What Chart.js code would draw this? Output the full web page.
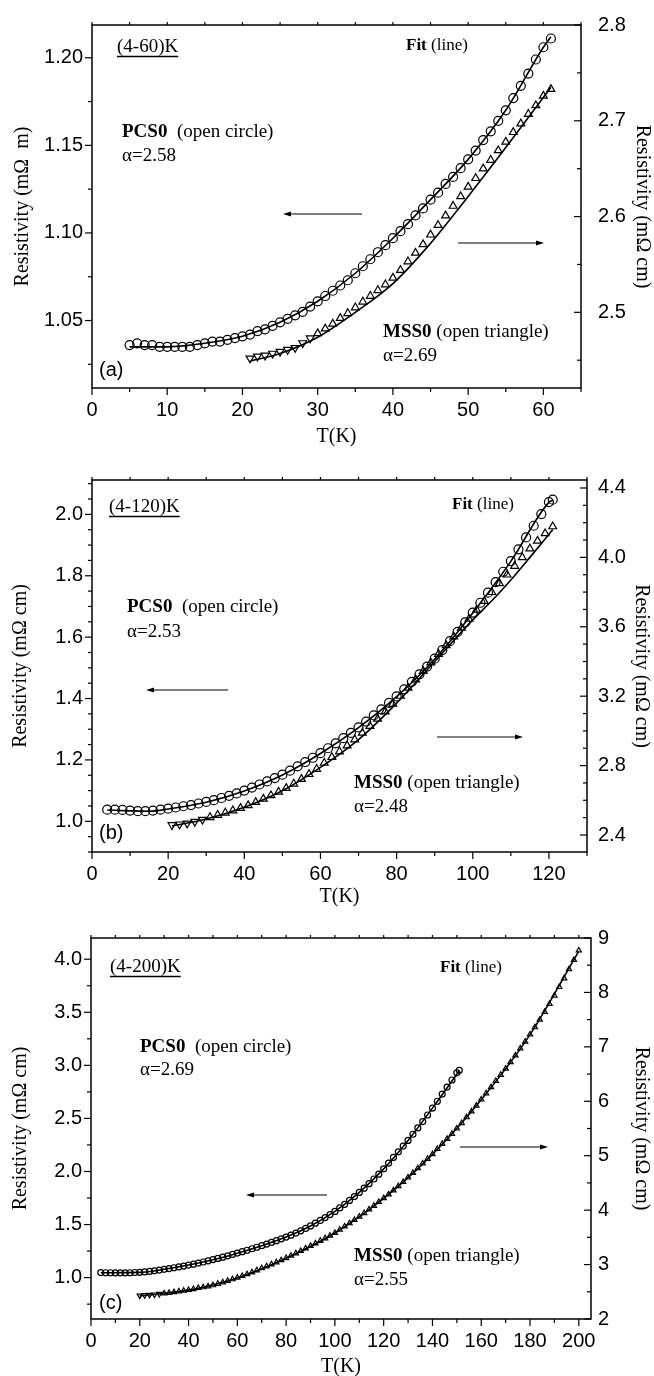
<!DOCTYPE html>
<html>
<head>
<meta charset="utf-8">
<script src="https://cdn.jsdelivr.net/npm/chart.js@4.4.1/dist/chart.umd.min.js"></script>
<style>
  html, body { margin: 0; padding: 0; background: #fff; overflow: hidden; }
  canvas { position: absolute; left: 0; }
</style>
</head>
<body>
<canvas id="ca" width="654" height="460" style="top:0"></canvas>
<canvas id="cb" width="654" height="460" style="top:460px"></canvas>
<canvas id="cc" width="654" height="470" style="top:920px"></canvas>
<script>
// ---- panel (a) 4-60 K ----
const tempA_pcs = [5,6,7,8,9,10,11,12,13,14,15,16,17,18,19,20,21,22,23,24,25,26,27,28,29,30,31,32,33,34,35,36,37,38,39,40,41,42,43,44,45,46,47,48,49,50,51,52,53,54,55,56,57,58,59,60,61];
const rhoA_pcs = [1.036,1.037,1.036,1.036,1.035,1.035,1.035,1.035,1.035,1.036,
  1.037,1.038,1.038,1.039,1.040,1.041,1.042,1.044,1.045,1.047,
  1.049,1.051,1.053,1.055,1.058,1.061,1.064,1.067,1.070,1.073,
  1.077,1.081,1.085,1.089,1.093,1.097,1.101,1.105,1.110,1.114,
  1.119,1.123,1.128,1.132,1.137,1.142,1.147,1.153,1.158,1.164,
  1.170,1.177,1.184,1.191,1.199,1.206,1.211];
const tempA_mss = [21,22,23,24,25,26,27,28,29,30,31,32,33,34,35,36,37,38,39,40,41,42,43,44,45,46,47,48,49,50,51,52,53,54,55,56,57,58,59,60,61];
const rhoA_mss = [2.452,2.454,2.455,2.457,2.459,2.461,2.463,2.468,2.473,2.478,
  2.483,2.488,2.494,2.499,2.505,2.511,2.517,2.523,2.529,2.536,
  2.544,2.553,2.562,2.571,2.581,2.591,2.601,2.611,2.621,2.631,
  2.640,2.650,2.659,2.669,2.678,2.688,2.697,2.707,2.716,2.726,2.733];
const tempA_fitPcs = [5,10,15,20,25,30,35,40,45,50,55,60,61];
const rhoA_fitPcs = [1.035,1.035,1.037,1.041,1.049,1.061,1.077,1.097,1.119,1.142,1.170,1.206,1.212];
const tempA_fitMss = [21,25,30,35,40,45,50,55,61];
const rhoA_fitMss = [2.449,2.457,2.474,2.500,2.530,2.572,2.621,2.672,2.735];
const xTicksA = [0,10,20,30,40,50,60];
const yTicksA = [1.05,1.10,1.15,1.20];
const y2TicksA = [2.5,2.6,2.7,2.8];

// ---- panel (b) 4-120 K ----
const tempB_pcs = [4,6,8,10,12,14,16,18,20,22,24,26,28,30,32,34,36,38,40,42,44,46,48,50,52,54,56,58,60,62,64,66,68,70,72,74,76,78,80,82,84,86,88,90,92,94,96,98,100,102,104,106,108,110,112,114,116,118,120,121];
const rhoB_pcs = [1.038,1.038,1.037,1.035,1.033,1.033,1.035,1.038,1.041,1.045,
  1.049,1.053,1.058,1.063,1.069,1.076,1.083,1.091,1.100,1.110,
  1.120,1.130,1.141,1.152,1.165,1.179,1.193,1.207,1.222,1.238,
  1.254,1.271,1.288,1.306,1.325,1.345,1.365,1.386,1.407,1.430,
  1.454,1.479,1.504,1.530,1.558,1.587,1.617,1.648,1.680,1.712,
  1.745,1.779,1.813,1.848,1.886,1.925,1.963,2.001,2.040,2.048];
const tempB_mss = [21,23,25,27,29,31,33,35,37,39,41,43,45,47,49,51,53,55,57,59,61,63,65,67,69,71,73,75,77,79,81,83,85,87,89,91,93,95,97,99,101,103,105,107,109,111,113,115,117,119,121];
const rhoB_mss = [2.458,2.462,2.467,2.477,2.489,2.502,2.515,2.528,2.541,2.555,
  2.571,2.589,2.608,2.628,2.648,2.670,2.695,2.722,2.750,2.780,
  2.815,2.848,2.881,2.915,2.950,2.988,3.028,3.069,3.111,3.155,
  3.201,3.248,3.296,3.344,3.393,3.443,3.493,3.543,3.594,3.645,
  3.697,3.748,3.799,3.850,3.900,3.950,4.000,4.050,4.095,4.138,4.178];
const tempB_fitPcs = [4,10,15,20,30,40,50,60,70,80,90,100,110,120,121];
const rhoB_fitPcs = [1.037,1.034,1.033,1.040,1.062,1.099,1.151,1.221,1.305,1.406,1.529,1.679,1.847,2.039,2.046];
const tempB_fitMss = [21,30,40,50,60,70,80,90,100,105,110,115,121];
const rhoB_fitMss = [2.452,2.492,2.560,2.655,2.790,2.950,3.160,3.400,3.640,3.750,3.870,4.000,4.160];
const xTicksB = [0,20,40,60,80,100,120];
const yTicksB = [1.0,1.2,1.4,1.6,1.8,2.0];
const y2TicksB = [2.4,2.8,3.2,3.6,4.0,4.4];

// ---- panel (c) 4-200 K ----
const tempC_pcs = [4,6,8,10,12,14,16,18,20,22,24,26,28,30,32,34,36,38,40,42,44,46,48,50,52,54,56,58,60,62,64,66,68,70,72,74,76,78,80,82,84,86,88,90,92,94,96,98,100,102,104,106,108,110,112,114,116,118,120,122,124,126,128,130,132,134,136,138,140,142,144,146,148,150,151];
const rhoC_pcs = [1.047,1.046,1.046,1.045,1.045,1.045,1.046,1.048,1.050,1.054,
  1.058,1.064,1.071,1.078,1.085,1.093,1.101,1.109,1.118,1.127,
  1.137,1.147,1.158,1.170,1.181,1.193,1.205,1.218,1.231,1.244,
  1.258,1.272,1.286,1.301,1.316,1.332,1.348,1.365,1.382,1.400,
  1.420,1.441,1.463,1.487,1.513,1.539,1.566,1.594,1.624,1.657,
  1.691,1.727,1.764,1.803,1.843,1.885,1.929,1.975,2.025,2.078,
  2.132,2.185,2.239,2.293,2.351,2.410,2.470,2.532,2.597,2.662,
  2.729,2.795,2.862,2.930,2.953];
const tempC_mss = [20,22,24,26,28,30,32,34,36,38,40,42,44,46,48,50,52,54,56,58,60,62,64,66,68,70,72,74,76,78,80,82,84,86,88,90,92,94,96,98,100,102,104,106,108,110,112,114,116,118,120,122,124,126,128,130,132,134,136,138,140,142,144,146,148,150,152,154,156,158,160,162,164,166,168,170,172,174,176,178,180,182,184,186,188,190,192,194,196,198,200];
const rhoC_mss = [2.430,2.437,2.443,2.450,2.460,2.470,2.480,2.493,2.507,2.520,
  2.533,2.550,2.570,2.583,2.600,2.620,2.647,2.673,2.700,2.730,
  2.760,2.790,2.823,2.858,2.895,2.932,2.968,3.005,3.042,3.080,
  3.120,3.163,3.207,3.250,3.297,3.343,3.390,3.437,3.483,3.530,
  3.583,3.640,3.700,3.760,3.820,3.880,3.947,4.013,4.080,4.150,
  4.220,4.290,4.363,4.440,4.520,4.600,4.683,4.770,4.857,4.943,
  5.030,5.123,5.217,5.310,5.403,5.500,5.600,5.707,5.813,5.920,
  6.033,6.147,6.260,6.373,6.487,6.600,6.720,6.843,6.970,7.097,
  7.227,7.360,7.500,7.643,7.790,7.943,8.100,8.260,8.427,8.597,8.770];
const tempC_fitPcs = [4,20,30,40,50,60,70,80,90,100,110,120,130,140,151];
const rhoC_fitPcs = [1.046,1.049,1.078,1.118,1.168,1.230,1.301,1.382,1.487,1.624,1.803,2.025,2.293,2.597,2.950];
const tempC_fitMss = [20,40,60,80,100,120,140,160,180,200];
const rhoC_fitMss = [2.425,2.530,2.755,3.115,3.580,4.215,5.025,6.030,7.225,8.760];
const xTicksC = [0,20,40,60,80,100,120,140,160,180,200];
const yTicksC = [1.0,1.5,2.0,2.5,3.0,3.5,4.0];
const y2TicksC = [2,3,4,5,6,7,8,9];

const SERIF = '"Liberation Serif", "Times New Roman", serif';
const SANS = '"Liberation Sans", Arial, sans-serif';

const pts = (xs, ys) => xs.map((x, i) => ({ x: x, y: ys[i] }));

function line(ctx, x1, y1, x2, y2) {
  ctx.beginPath(); ctx.moveTo(x1, y1); ctx.lineTo(x2, y2); ctx.stroke();
}

function ticks(scale, minor, majors, draw) {
  const n0 = Math.ceil(scale.min / minor - 1e-6), n1 = Math.floor(scale.max / minor + 1e-6);
  for (let n = n0; n <= n1; n++) {
    const v = n * minor;
    const major = majors.some(m => Math.abs(m - v) < minor / 10);
    draw(scale.getPixelForValue(v), major ? 7 : 4);
  }
}

function arrow(ctx, x1, y, x2) {
  const d = x2 > x1 ? 1 : -1;
  line(ctx, x1, y, x2 - d * 6, y);
  ctx.beginPath();
  ctx.moveTo(x2, y); ctx.lineTo(x2 - d * 8, y - 2.5); ctx.lineTo(x2 - d * 8, y + 2.5);
  ctx.closePath(); ctx.fill();
}

function runs(ctx, x, y, parts, size, underline) {
  let cx = x;
  parts.forEach(p => {
    ctx.font = (p.b ? 'bold ' : '') + size + 'px ' + SERIF;
    ctx.fillText(p.t, cx, y);
    cx += ctx.measureText(p.t).width;
  });
  if (underline) { ctx.lineWidth = 1.3; line(ctx, x, y + size * 0.5, cx, y + size * 0.5); }
}

const decor = {
  id: 'decor',
  afterDatasetsDraw(chart, args, o) {
    const { ctx, chartArea: a, scales } = chart;
    ctx.save();
    ctx.strokeStyle = '#000'; ctx.fillStyle = '#000';
    ctx.lineWidth = 1.5;
    ctx.strokeRect(a.left, a.top, a.right - a.left, a.bottom - a.top);
    ctx.lineWidth = 1.2;
    ticks(scales.x, o.minor[0], o.major[0], (p, len) => line(ctx, p, a.bottom, p, a.bottom + len));
    ticks(scales.x, o.minor[0], o.major[0], (p) => line(ctx, p, a.top, p, a.top - 3));
    ticks(scales.y, o.minor[1], o.major[1], (p, len) => line(ctx, a.left, p, a.left - len, p));
    ticks(scales.y2, o.minor[2], o.major[2], (p, len) => line(ctx, a.right, p, a.right - len, p));

    ctx.lineWidth = 1;
    o.arrows.forEach(ar => arrow(ctx, ar[0], ar[1], ar[2]));

    ctx.textBaseline = 'middle'; ctx.textAlign = 'left';
    o.texts.forEach(t => runs(ctx, t.x, t.y, t.parts, t.size || 19, t.u));
    ctx.font = '20px ' + SANS;
    ctx.fillText(o.tag[0], o.tag[1], o.tag[2]);
    ctx.restore();
  }
};

function panel(id, p) {
  const tickFont = { family: SANS, size: 20 };
  const titleFont = { family: SERIF, size: 20 };
  const yAxis = (pos, range, tickVals, dec, title, width, titlePad, tl, pad) => ({
    type: 'linear', position: pos, min: range[0], max: range[1],
    border: { display: false },
    grid: { display: false, drawTicks: true, tickLength: tl },
    ticks: { font: tickFont, color: '#000', padding: pad, callback: v => v.toFixed(dec) },
    afterBuildTicks: s => { s.ticks = tickVals.map(v => ({ value: v })); },
    afterFit: s => { s.width = width; },
    title: { display: true, text: title, font: titleFont, color: '#000', padding: { top: titlePad, bottom: 0 } }
  });
  return new Chart(document.getElementById(id), {
    type: 'scatter',
    data: {
      datasets: [
        { data: pts(p.fitPcs[0], p.fitPcs[1]), yAxisID: 'y', showLine: true, pointRadius: 0,
          borderColor: '#000', borderWidth: 1.6, cubicInterpolationMode: 'monotone', order: 0 },
        { data: pts(p.fitMss[0], p.fitMss[1]), yAxisID: 'y2', showLine: true, pointRadius: 0,
          borderColor: '#000', borderWidth: 1.6, cubicInterpolationMode: 'monotone', order: 0 },
        { data: pts(p.pcs[0], p.pcs[1]), yAxisID: 'y', pointStyle: 'circle', pointRadius: p.r,
          borderColor: '#000', borderWidth: 1.2, backgroundColor: 'rgba(255,255,255,0)', order: 1 },
        { data: pts(p.mss[0], p.mss[1]), yAxisID: 'y2', pointStyle: 'triangle', pointRadius: p.r,
          pointRotation: c => (c.raw && c.raw.x < 30 ? 180 : 0),
          borderColor: '#000', borderWidth: 1.2, backgroundColor: 'rgba(255,255,255,0)', order: 1 }
      ]
    },
    options: {
      responsive: false, animation: false,
      layout: { padding: { top: p.box[3], left: 0, right: 0, bottom: 0 } },
      plugins: { legend: { display: false }, tooltip: { enabled: false }, decor: p.decor },
      scales: {
        x: {
          type: 'linear', position: 'bottom', min: 0, max: p.xMax,
          border: { display: false },
          grid: { display: false, drawTicks: true, tickLength: 7 },
          ticks: { font: tickFont, color: '#000', padding: 3, maxRotation: 0, minRotation: 0, autoSkip: false },
          afterBuildTicks: s => { s.ticks = p.xTicks.map(v => ({ value: v })); },
          afterFit: s => { s.height = p.box[2]; },
          title: { display: true, text: 'T(K)', font: titleFont, color: '#000', padding: { top: 0, bottom: 11 } }
        },
        y: yAxis('left', p.yRange, p.yTicks, p.yDec, p.yTitle, p.box[0], p.titlePad[0], 7, 2),
        y2: yAxis('right', p.y2Range, p.y2Ticks, p.y2Dec, 'Resistivity (m\u03A9 cm)', p.box[1], p.titlePad[1], 4, p.rPad)
      }
    },
    plugins: [decor]
  });
}

panel('ca', {
  pcs: [tempA_pcs, rhoA_pcs], mss: [tempA_mss, rhoA_mss],
  fitPcs: [tempA_fitPcs, rhoA_fitPcs], fitMss: [tempA_fitMss, rhoA_fitMss],
  xMax: 65, yRange: [1.0115, 1.2187], y2Range: [2.421, 2.8],
  xTicks: xTicksA, yTicks: yTicksA, y2Ticks: y2TicksA, yDec: 2, y2Dec: 1,
  yTitle: 'Resistivity (m\u03A9  m)', box: [92, 73, 72, 22], titlePad: [11, 0], r: 4.5, rPad: 13,
  decor: {
    minor: [5, 0.025, 0.05], major: [xTicksA, yTicksA, y2TicksA],
    arrows: [[362, 214, 283], [458, 243, 544]],
    texts: [
      { x: 117, y: 47, parts: [{ t: '(4-60)K' }], u: true },
      { x: 122, y: 132, parts: [{ t: 'PCS0', b: true }, { t: '  (open circle)' }] },
      { x: 122, y: 156, parts: [{ t: '\u03B1=2.58' }] },
      { x: 406, y: 46, parts: [{ t: 'Fit', b: true }, { t: ' (line)' }], size: 17 },
      { x: 383, y: 332, parts: [{ t: 'MSS0', b: true }, { t: ' (open triangle)' }] },
      { x: 383, y: 356, parts: [{ t: '\u03B1=2.69' }] }
    ],
    tag: ['(a)', 99, 370]
  }
});

panel('cb', {
  pcs: [tempB_pcs, rhoB_pcs], mss: [tempB_mss, rhoB_mss],
  fitPcs: [tempB_fitPcs, rhoB_fitPcs], fitMss: [tempB_fitMss, rhoB_fitMss],
  xMax: 130, yRange: [0.9, 2.112], y2Range: [2.302, 4.446],
  xTicks: xTicksB, yTicks: yTicksB, y2Ticks: y2TicksB, yDec: 1, y2Dec: 1,
  yTitle: 'Resistivity (m\u03A9 cm)', box: [92, 67, 68, 20], titlePad: [9, 1], r: 4.5, rPad: 7,
  decor: {
    minor: [10, 0.05, 0.1], major: [xTicksB, yTicksB, y2TicksB],
    arrows: [[228, 230, 146], [437, 277, 523]],
    texts: [
      { x: 109, y: 47, parts: [{ t: '(4-120)K' }], u: true },
      { x: 127, y: 147, parts: [{ t: 'PCS0', b: true }, { t: '  (open circle)' }] },
      { x: 127, y: 172, parts: [{ t: '\u03B1=2.53' }] },
      { x: 452, y: 45, parts: [{ t: 'Fit', b: true }, { t: ' (line)' }], size: 17 },
      { x: 354, y: 323, parts: [{ t: 'MSS0', b: true }, { t: ' (open triangle)' }] },
      { x: 354, y: 347, parts: [{ t: '\u03B1=2.48' }] }
    ],
    tag: ['(b)', 99, 373]
  }
});

panel('cc', {
  pcs: [tempC_pcs, rhoC_pcs], mss: [tempC_mss, rhoC_mss],
  fitPcs: [tempC_fitPcs, rhoC_fitPcs], fitMss: [tempC_fitMss, rhoC_fitMss],
  xMax: 205, yRange: [0.61, 4.2], y2Range: [2, 9],
  xTicks: xTicksC, yTicks: yTicksC, y2Ticks: y2TicksC, yDec: 1, y2Dec: 0,
  yTitle: 'Resistivity (m\u03A9 cm)', box: [91, 63, 71, 18], titlePad: [9, 1], r: 3, rPad: 3,
  decor: {
    minor: [10, 0.25, 0.5], major: [xTicksC, yTicksC, y2TicksC],
    arrows: [[327, 275, 246], [460, 227, 548]],
    texts: [
      { x: 110, y: 47, parts: [{ t: '(4-200)K' }], u: true },
      { x: 140, y: 127, parts: [{ t: 'PCS0', b: true }, { t: '  (open circle)' }] },
      { x: 140, y: 150, parts: [{ t: '\u03B1=2.69' }] },
      { x: 440, y: 48, parts: [{ t: 'Fit', b: true }, { t: ' (line)' }], size: 17 },
      { x: 354, y: 336, parts: [{ t: 'MSS0', b: true }, { t: ' (open triangle)' }] },
      { x: 354, y: 360, parts: [{ t: '\u03B1=2.55' }] }
    ],
    tag: ['(c)', 99, 383]
  }
});
</script>
</body>
</html>
